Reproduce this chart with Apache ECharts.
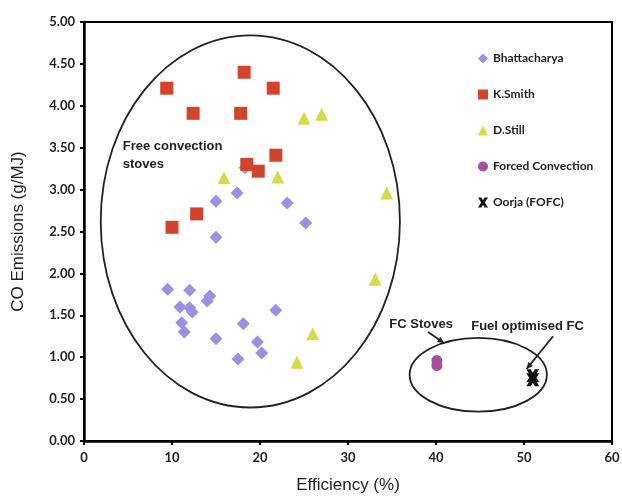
<!DOCTYPE html>
<html>
<head>
<meta charset="utf-8">
<script src="https://cdn.jsdelivr.net/npm/echarts@6/dist/echarts.min.js"></script>
<style>
html, body { margin: 0; padding: 0; background: #fff; }
#mainCanvas { width: 622px; height: 496px; }
</style>
</head>
<body>
<div id="mainCanvas"></div>
<script>
var myChart = echarts.init(document.getElementById("mainCanvas"));

// data: [efficiency %, CO g/MJ]
var bhattacharya = [[17.4, 2.96], [15.0, 2.86], [15.0, 2.43], [18.3, 3.26], [23.1, 2.84], [25.2, 2.60],
    [9.5, 1.81], [12.0, 1.80], [14.3, 1.73], [14.0, 1.67], [10.9, 1.60], [12.0, 1.59], [12.3, 1.54],
    [11.1, 1.41], [11.4, 1.30], [18.1, 1.40], [15.0, 1.22], [17.5, 0.98], [21.8, 1.56], [19.7, 1.18], [20.2, 1.05]];
var kSmith = [[9.4, 4.21], [18.2, 4.40], [12.4, 3.91], [17.8, 3.91], [21.5, 4.21], [18.5, 3.30],
    [21.8, 3.41], [19.8, 3.22], [12.8, 2.71], [10.0, 2.55]];
var dStill = [[15.9, 3.14], [25.0, 3.85], [27.0, 3.90], [22.0, 3.15], [34.4, 2.96], [33.1, 1.93],
    [26.0, 1.28], [24.2, 0.94]];
var forcedConv = [[40.1, 0.96], [40.1, 0.90]];
var oorja = [[51.0, 0.78], [51.0, 0.73]];

var xTicks = [0, 10, 20, 30, 40, 50, 60];
var yTicks = [0, 0.5, 1, 1.5, 2, 2.5, 3, 3.5, 4, 4.5, 5];

// annotation ellipses in data units: center x, center y, radius x, radius y
var freeEllipse = [18.9, 2.62, 17.0, 2.22];
var fcEllipse = [44.8, 0.79, 7.8, 0.44];

var tickFont = { fontFamily: 'Lato', fontWeight: 'bold', fontSize: 13, color: '#222' };
var xPath = 'path://M0,0 L3.4,0 L5,2.8 L6.6,0 L10,0 L6.8,5 L10,10 L6.6,10 L5,7.2 L3.4,10 L0,10 L3.2,5 Z';

var option = {
    animation: false,
    grid: { left: 84, right: 10, top: 22, bottom: 55, outerBoundsMode: 'none', containLabel: false,
        show: true, borderColor: '#000', borderWidth: 2 },
    legend: {
        orient: 'vertical', left: 473, top: 46, itemGap: 21, itemWidth: 10, itemHeight: 10,
        textStyle: { fontFamily: 'Lato', fontWeight: 'bold', fontSize: 12, color: '#222', lineHeight: 15 },
        data: ['Bhattacharya', 'K.Smith', 'D.Still', 'Forced Convection', 'Oorja (FOFC)']
    },
    xAxis: {
        type: 'value', min: xTicks[0], max: xTicks[xTicks.length - 1], interval: 10,
        name: 'Efficiency (%)', nameLocation: 'middle', nameGap: 36,
        nameTextStyle: { fontFamily: 'Liberation Sans', fontSize: 17, color: '#222' },
        axisLine: { lineStyle: { color: '#000', width: 2.5 } },
        axisTick: { show: true, length: 4, lineStyle: { color: '#000', width: 2 } },
        axisLabel: Object.assign({ margin: 10 }, tickFont),
        splitLine: { show: false }
    },
    yAxis: {
        type: 'value', min: yTicks[0], max: yTicks[yTicks.length - 1], interval: 0.5,
        name: 'CO Emissions (g/MJ)', nameLocation: 'middle', nameGap: 57,
        nameTextStyle: { fontFamily: 'Liberation Sans', fontSize: 17, color: '#222' },
        axisLine: { show: true, lineStyle: { color: '#000', width: 2.5 } },
        axisTick: { show: true, length: 4, lineStyle: { color: '#000', width: 2 } },
        axisLabel: Object.assign({ margin: 9, formatter: function (v) { return v.toFixed(2); } }, tickFont),
        splitLine: { show: false }
    },
    series: [
        { name: 'Bhattacharya', type: 'scatter', symbol: 'diamond', symbolSize: 13,
          itemStyle: { color: '#9d8fe2', opacity: 1 }, data: bhattacharya },
        { name: 'K.Smith', type: 'scatter', symbol: 'rect', symbolSize: 13,
          itemStyle: { color: '#d4432c', opacity: 1 }, data: kSmith },
        { name: 'D.Still', type: 'scatter', symbol: 'triangle', symbolSize: 13,
          itemStyle: { color: '#d5da48', opacity: 1 }, data: dStill },
        { name: 'Forced Convection', type: 'scatter', symbol: 'circle', symbolSize: 11,
          itemStyle: { color: '#a5509d', opacity: 1 }, data: forcedConv },
        { name: 'Oorja (FOFC)', type: 'scatter', symbol: xPath, symbolSize: 13,
          itemStyle: { color: '#111', opacity: 1 }, data: oorja }
    ]
};

myChart.setOption(option);

function px(x, y) { return myChart.convertToPixel({ gridIndex: 0 }, [x, y]); }
function ellipseEl(e) {
    var c = px(e[0], e[1]);
    var r = px(e[0] + e[2], e[1] + e[3]);
    return { type: 'ellipse', z: 1, silent: true,
        shape: { cx: c[0], cy: c[1], rx: r[0] - c[0], ry: c[1] - r[1] },
        style: { fill: 'none', stroke: '#222', lineWidth: 1.8 } };
}
function label(text, x, y) {
    var p = px(x, y);
    return { type: 'text', x: p[0], y: p[1], z: 5,
        style: { text: text, fill: '#222', font: 'bold 13px "Liberation Sans"', textVerticalAlign: 'middle' } };
}
function arrow(x1, y1, x2, y2) {
    var a = px(x1, y1), b = px(x2, y2);
    var ang = Math.atan2(b[1] - a[1], b[0] - a[0]), h = 7;
    return [
        { type: 'line', z: 5, shape: { x1: a[0], y1: a[1], x2: b[0], y2: b[1] }, style: { stroke: '#222', lineWidth: 1.8 } },
        { type: 'polygon', z: 5, shape: { points: [b,
            [b[0] - h * Math.cos(ang - 0.45), b[1] - h * Math.sin(ang - 0.45)],
            [b[0] - h * Math.cos(ang + 0.45), b[1] - h * Math.sin(ang + 0.45)]] }, style: { fill: '#222' } }
    ];
}

var graphics = [ellipseEl(freeEllipse), ellipseEl(fcEllipse),
    label('Free convection', 4.4, 3.52), label('stoves', 4.4, 3.30),
    label('FC Stoves', 34.7, 1.39), label('Fuel optimised FC', 44.0, 1.37)]
    .concat(arrow(39.1, 1.30, 40.9, 1.17))
    .concat(arrow(53.3, 1.25, 50.3, 0.86));

myChart.setOption({ graphic: graphics });
</script>
</body>
</html>
